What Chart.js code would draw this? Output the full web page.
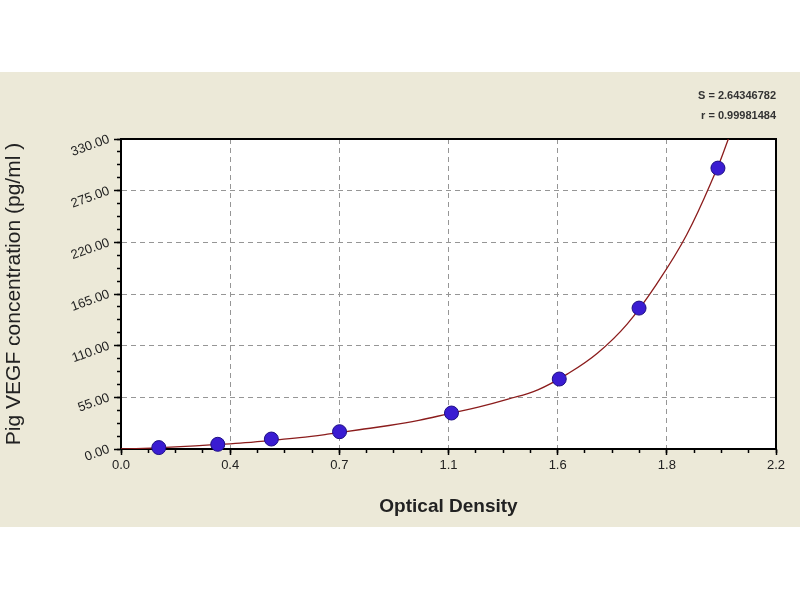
<!DOCTYPE html>
<html><head><meta charset="utf-8">
<script src="https://cdn.jsdelivr.net/npm/chart.js@4.4.1/dist/chart.umd.min.js"></script>
<style>html,body{margin:0;padding:0;background:#fff;}canvas{display:block;}</style>
</head><body>
<canvas id="c" width="800" height="600"></canvas>
<script>
// Standards (measured points)
const standardOD = [0.127, 0.325, 0.505, 0.734, 1.11, 1.472, 1.74, 2.005];
const standardConc = [1.5, 5, 10.6, 18.4, 38.3, 74.5, 150, 299];
// Fitted curve
const curveOD = [0.0, 0.1, 0.2, 0.3, 0.4, 0.5, 0.6, 0.7, 0.8, 0.9, 1.0, 1.1, 1.2, 1.3, 1.4, 1.5, 1.6, 1.7, 1.8, 1.9, 2.0, 2.04];
const curveConc = [0, 1.0, 2.5, 4.3, 6.3, 9.0, 12.0, 16.0, 20.5, 25.0, 30.5, 37.5, 44.5, 53, 63, 80, 102, 133, 176, 228, 297, 330];
// Ticks
const xTickValues = [0, 0.3667, 0.7333, 1.1, 1.4667, 1.8333, 2.2];
const xTickLabels = ['0.0', '0.4', '0.7', '1.1', '1.6', '1.8', '2.2'];
const yTickValues = [0, 55, 110, 165, 220, 275, 330];
const yTickLabels = ['0.00', '55.00', '110.00', '165.00', '220.00', '275.00', '330.00'];
const xTitle = 'Optical Density';
const yTitle = 'Pig VEGF concentration (pg/ml )';
const fitText = ['S = 2.64346782', 'r = 0.99981484'];

const FONT = '"Liberation Sans", Arial, sans-serif';

const decor = {
  id: 'decor',
  beforeDraw(chart) {
    const {ctx, chartArea: a} = chart;
    ctx.save();
    ctx.fillStyle = '#ece9d8';
    ctx.fillRect(0, 72, chart.width, 455);
    ctx.fillStyle = '#ffffff';
    ctx.fillRect(a.left, a.top, a.right - a.left, a.bottom - a.top);
    ctx.fillStyle = '#333';
    ctx.font = 'bold 11px ' + FONT;
    ctx.textAlign = 'right';
    ctx.textBaseline = 'middle';
    fitText.forEach((t, i) => ctx.fillText(t, a.right, a.top - 43 + i * 20));
    ctx.restore();
  },
  beforeDatasetsDraw(chart) {
    const {ctx, chartArea: a} = chart;
    ctx.save();
    ctx.strokeStyle = '#000';
    ctx.lineWidth = 2;
    ctx.strokeRect(a.left, a.top, a.right - a.left, a.bottom - a.top);
    ctx.restore();
  }
};

new Chart(document.getElementById('c'), {
  type: 'scatter',
  data: {
    datasets: [
      {
        label: 'Standards',
        data: standardOD.map((x, i) => ({x: x, y: standardConc[i]})),
        backgroundColor: '#3a1cd2',
        borderColor: '#1e0f85',
        borderWidth: 1,
        pointRadius: 7,
        pointHoverRadius: 7,
        clip: false
      },
      {
        label: 'Fit',
        data: curveOD.map((x, i) => ({x: x, y: curveConc[i]})),
        showLine: true,
        borderColor: '#8b1c1c',
        borderWidth: 1.3,
        pointRadius: 0,
        pointHoverRadius: 0,
        tension: 0.4,
        fill: false
      }
    ]
  },
  options: {
    responsive: false,
    animation: false,
    layout: {padding: {top: 139, right: 24, left: 0, bottom: 0}},
    plugins: {legend: {display: false}, tooltip: {enabled: false}, title: {display: false}},
    scales: {
      x: {
        type: 'linear', axis: 'x', position: 'bottom', min: 0, max: 2.2, weight: 0,
        afterBuildTicks: s => { s.ticks = xTickValues.map(v => ({value: v})); },
        afterFit: s => { s.height = 151; },
        ticks: {autoSkip: false, minRotation: 0, maxRotation: 0, padding: 3, color: '#222',
          font: {family: FONT, size: 13}, callback: (v, i) => xTickLabels[i]},
        grid: {color: '#969696', lineWidth: 1, tickColor: '#000', tickLength: 6, tickWidth: 1.5},
        border: {display: true, color: '#000', width: 2, dash: [5, 4]},
        title: {display: true, text: xTitle, color: '#222',
          font: {family: FONT, size: 19, weight: 'bold'}, padding: {top: 0, bottom: 82}}
      },
      xMinor: {
        type: 'linear', axis: 'x', position: 'bottom', min: 0, max: 2.2, weight: -1,
        afterBuildTicks: s => { s.ticks = Array.from({length: 25}, (_, i) => ({value: i * 2.2 / 24})); },
        afterFit: s => { s.height = 0; },
        ticks: {display: false},
        grid: {drawOnChartArea: false, drawTicks: true, tickLength: 4, tickColor: '#000', tickWidth: 1.5},
        border: {display: false}
      },
      y: {
        type: 'linear', axis: 'y', position: 'left', min: 0, max: 330, weight: 0,
        afterBuildTicks: s => { s.ticks = yTickValues.map(v => ({value: v})); },
        afterFit: s => { s.width = 121; },
        ticks: {minRotation: 20, maxRotation: 20, padding: 5, color: '#222',
          font: {family: FONT, size: 13}, callback: (v, i) => yTickLabels[i]},
        grid: {color: '#969696', lineWidth: 1, tickColor: '#000', tickLength: 7, tickWidth: 1.5},
        border: {display: true, color: '#000', width: 2, dash: [5, 4]},
        title: {display: true, text: yTitle, color: '#222',
          font: {family: FONT, size: 21}, padding: {top: 2, bottom: 0}}
      },
      yMinor: {
        type: 'linear', axis: 'y', position: 'left', min: 0, max: 330, weight: -1,
        afterBuildTicks: s => { s.ticks = Array.from({length: 25}, (_, i) => ({value: i * 13.75})); },
        afterFit: s => { s.width = 0; },
        ticks: {display: false},
        grid: {drawOnChartArea: false, drawTicks: true, tickLength: 4, tickColor: '#000', tickWidth: 1.5},
        border: {display: false}
      }
    }
  },
  plugins: [decor]
});
</script>
</body></html>
